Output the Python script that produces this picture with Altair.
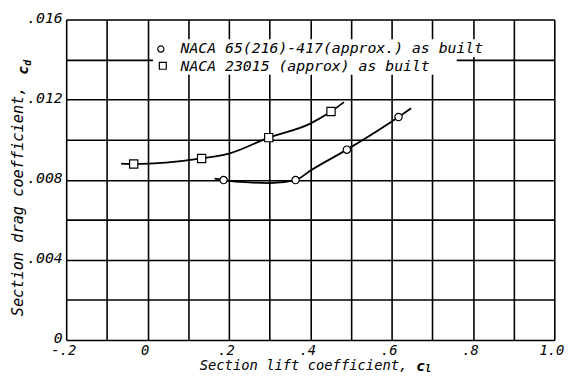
import altair as alt
import pandas as pd

# NACA 65(216)-417 (circles)
c_pts_x = [0.187, 0.364, 0.49, 0.617]
c_pts_y = [0.00798, 0.00798, 0.0095, 0.01113]
c_curve_x = [0.165, 0.187, 0.25, 0.30, 0.364, 0.40, 0.49, 0.617, 0.648]
c_curve_y = [0.00805, 0.00798, 0.00786, 0.00783, 0.00798, 0.00845, 0.0095, 0.01113, 0.01157]
# NACA 23015 (squares)
s_pts_x = [-0.034, 0.133, 0.298, 0.451]
s_pts_y = [0.00878, 0.00906, 0.0101, 0.0114]
s_curve_x = [-0.065, -0.034, 0.133, 0.20, 0.298, 0.40, 0.451, 0.483]
s_curve_y = [0.00880, 0.00878, 0.00906, 0.00930, 0.0101, 0.0108, 0.0114, 0.01187]

legend_labels = ["NACA 65(216)-417(approx.) as built", "NACA 23015 (approx) as built"]
x_grid = [-0.2, -0.1, 0.0, 0.1, 0.2, 0.3, 0.4, 0.5, 0.6, 0.7, 0.8, 0.9, 1.0]
y_grid = [0.0, 0.002, 0.004, 0.006, 0.008, 0.010, 0.012, 0.014, 0.016]

FONT = "DejaVu Sans Mono"
W, H = 495, 325

xs = alt.Scale(domain=[-0.2, 1.0], nice=False, zero=False)
ys = alt.Scale(domain=[0, 0.016], nice=False, zero=False)

x_axis = alt.Axis(
    values=x_grid, grid=True, gridColor="black", gridWidth=1.6, gridOpacity=1,
    ticks=False, domain=False, title=None, labelFont=FONT, labelFontStyle="italic",
    labelFontSize=14, labelColor="black", labelPadding=4, labelFlush=False, labelOffset=-3,
    labelExpr="round(datum.value*10) % 2 != 0 ? '' : (datum.value == 0 ? '0' : (round(datum.value*10) == 10 ? '1.0' : (datum.value < 0 ? '-' : '') + replace(format(abs(datum.value), '.1f'), '0.', '.')))",
)
y_axis = alt.Axis(
    values=y_grid, grid=True, gridColor="black", gridWidth=1.6, gridOpacity=1,
    ticks=False, domain=False, title=None, labelFont=FONT, labelFontStyle="italic",
    labelFontSize=15, labelColor="black", labelPadding=4, labelFlush=False, labelOffset=-2,
    labelExpr="round(datum.value*1000) % 4 != 0 ? '' : (datum.value == 0 ? '0' : replace(format(datum.value, '.3f'), '0.', '.'))",
)

curves = pd.concat([
    pd.DataFrame({"x": c_curve_x, "y": c_curve_y, "s": "c"}),
    pd.DataFrame({"x": s_curve_x, "y": s_curve_y, "s": "s"}),
])
lines = alt.Chart(curves).mark_line(color="black", strokeWidth=1.8, interpolate="monotone").encode(
    x=alt.X("x:Q", scale=xs, axis=x_axis),
    y=alt.Y("y:Q", scale=ys, axis=y_axis),
    detail="s:N",
)

circ = alt.Chart(pd.DataFrame({"x": c_pts_x, "y": c_pts_y})).mark_point(
    shape="circle", size=55, filled=True, fill="white", stroke="black", strokeWidth=1.2, opacity=1
).encode(x=alt.X("x:Q", scale=xs), y=alt.Y("y:Q", scale=ys))

sq = alt.Chart(pd.DataFrame({"x": s_pts_x, "y": s_pts_y})).mark_point(
    shape="square", size=70, filled=True, fill="white", stroke="black", strokeWidth=1.2, opacity=1
).encode(x=alt.X("x:Q", scale=xs), y=alt.Y("y:Q", scale=ys))

one = pd.DataFrame({"a": [0]})

# legend box and entries
leg_box1 = alt.Chart(one).mark_rect(fill="white", stroke=None).encode(
    x=alt.value(88), x2=alt.value(440), y=alt.value(20), y2=alt.value(38)
)
leg_box2 = alt.Chart(one).mark_rect(fill="white", stroke=None).encode(
    x=alt.value(88), x2=alt.value(396), y=alt.value(37), y2=alt.value(56)
)
leg_c = alt.Chart(one).mark_point(shape="circle", size=40, filled=True, fill="white", stroke="black", strokeWidth=1.2, opacity=1).encode(
    x=alt.value(96), y=alt.value(30))
leg_s = alt.Chart(one).mark_point(shape="square", size=50, filled=True, fill="white", stroke="black", strokeWidth=1.2, opacity=1).encode(
    x=alt.value(98), y=alt.value(47))
leg_t1 = alt.Chart(pd.DataFrame({"t": [legend_labels[0]]})).mark_text(
    font=FONT, fontStyle="italic", fontSize=15, align="left", baseline="middle", color="black").encode(
    x=alt.value(116), y=alt.value(29), text="t:N")
leg_t2 = alt.Chart(pd.DataFrame({"t": [legend_labels[1]]})).mark_text(
    font=FONT, fontStyle="italic", fontSize=15, align="left", baseline="middle", color="black").encode(
    x=alt.value(116), y=alt.value(47), text="t:N")

# axis titles
def txt(t, x, y, size=15, weight="normal", align="left", angle=0, baseline="alphabetic"):
    kw = dict(font=FONT, fontStyle="italic", fontSize=size, fontWeight=weight, align=align,
              baseline=baseline, color="black")
    if angle:
        kw["angle"] = angle
    return alt.Chart(pd.DataFrame({"t": [t]})).mark_text(**kw).encode(
        x=alt.value(x), y=alt.value(y), text="t:N")

xt1 = txt("Section lift coefficient,", 346, 356, size=14, align="right")
xt2 = txt("c", 355, 357, size=15, weight="bold")
xt3 = txt("l", 364, 360, size=10, weight="bold", baseline="bottom")

yt1 = txt("Section drag coefficient,", -44, 68, size=15.5, align="right", angle=270)
yt2 = txt("c", -39, 56, size=15, weight="bold", angle=270)
yt3 = txt("d", -36, 47, size=10, weight="bold", angle=270)

chart = alt.layer(
    lines, leg_box1, leg_box2, circ, sq, leg_c, leg_s, leg_t1, leg_t2, xt1, xt2, xt3, yt1, yt2, yt3
).properties(
    width=W, height=H,
    padding={"left": 59, "top": 9, "right": 22, "bottom": 35},
    autosize=alt.AutoSizeParams(type="none"),
).configure_view(stroke="black", strokeWidth=2).configure(background="white")

chart.save("out.html", embed_options={"renderer": "svg", "actions": False})
